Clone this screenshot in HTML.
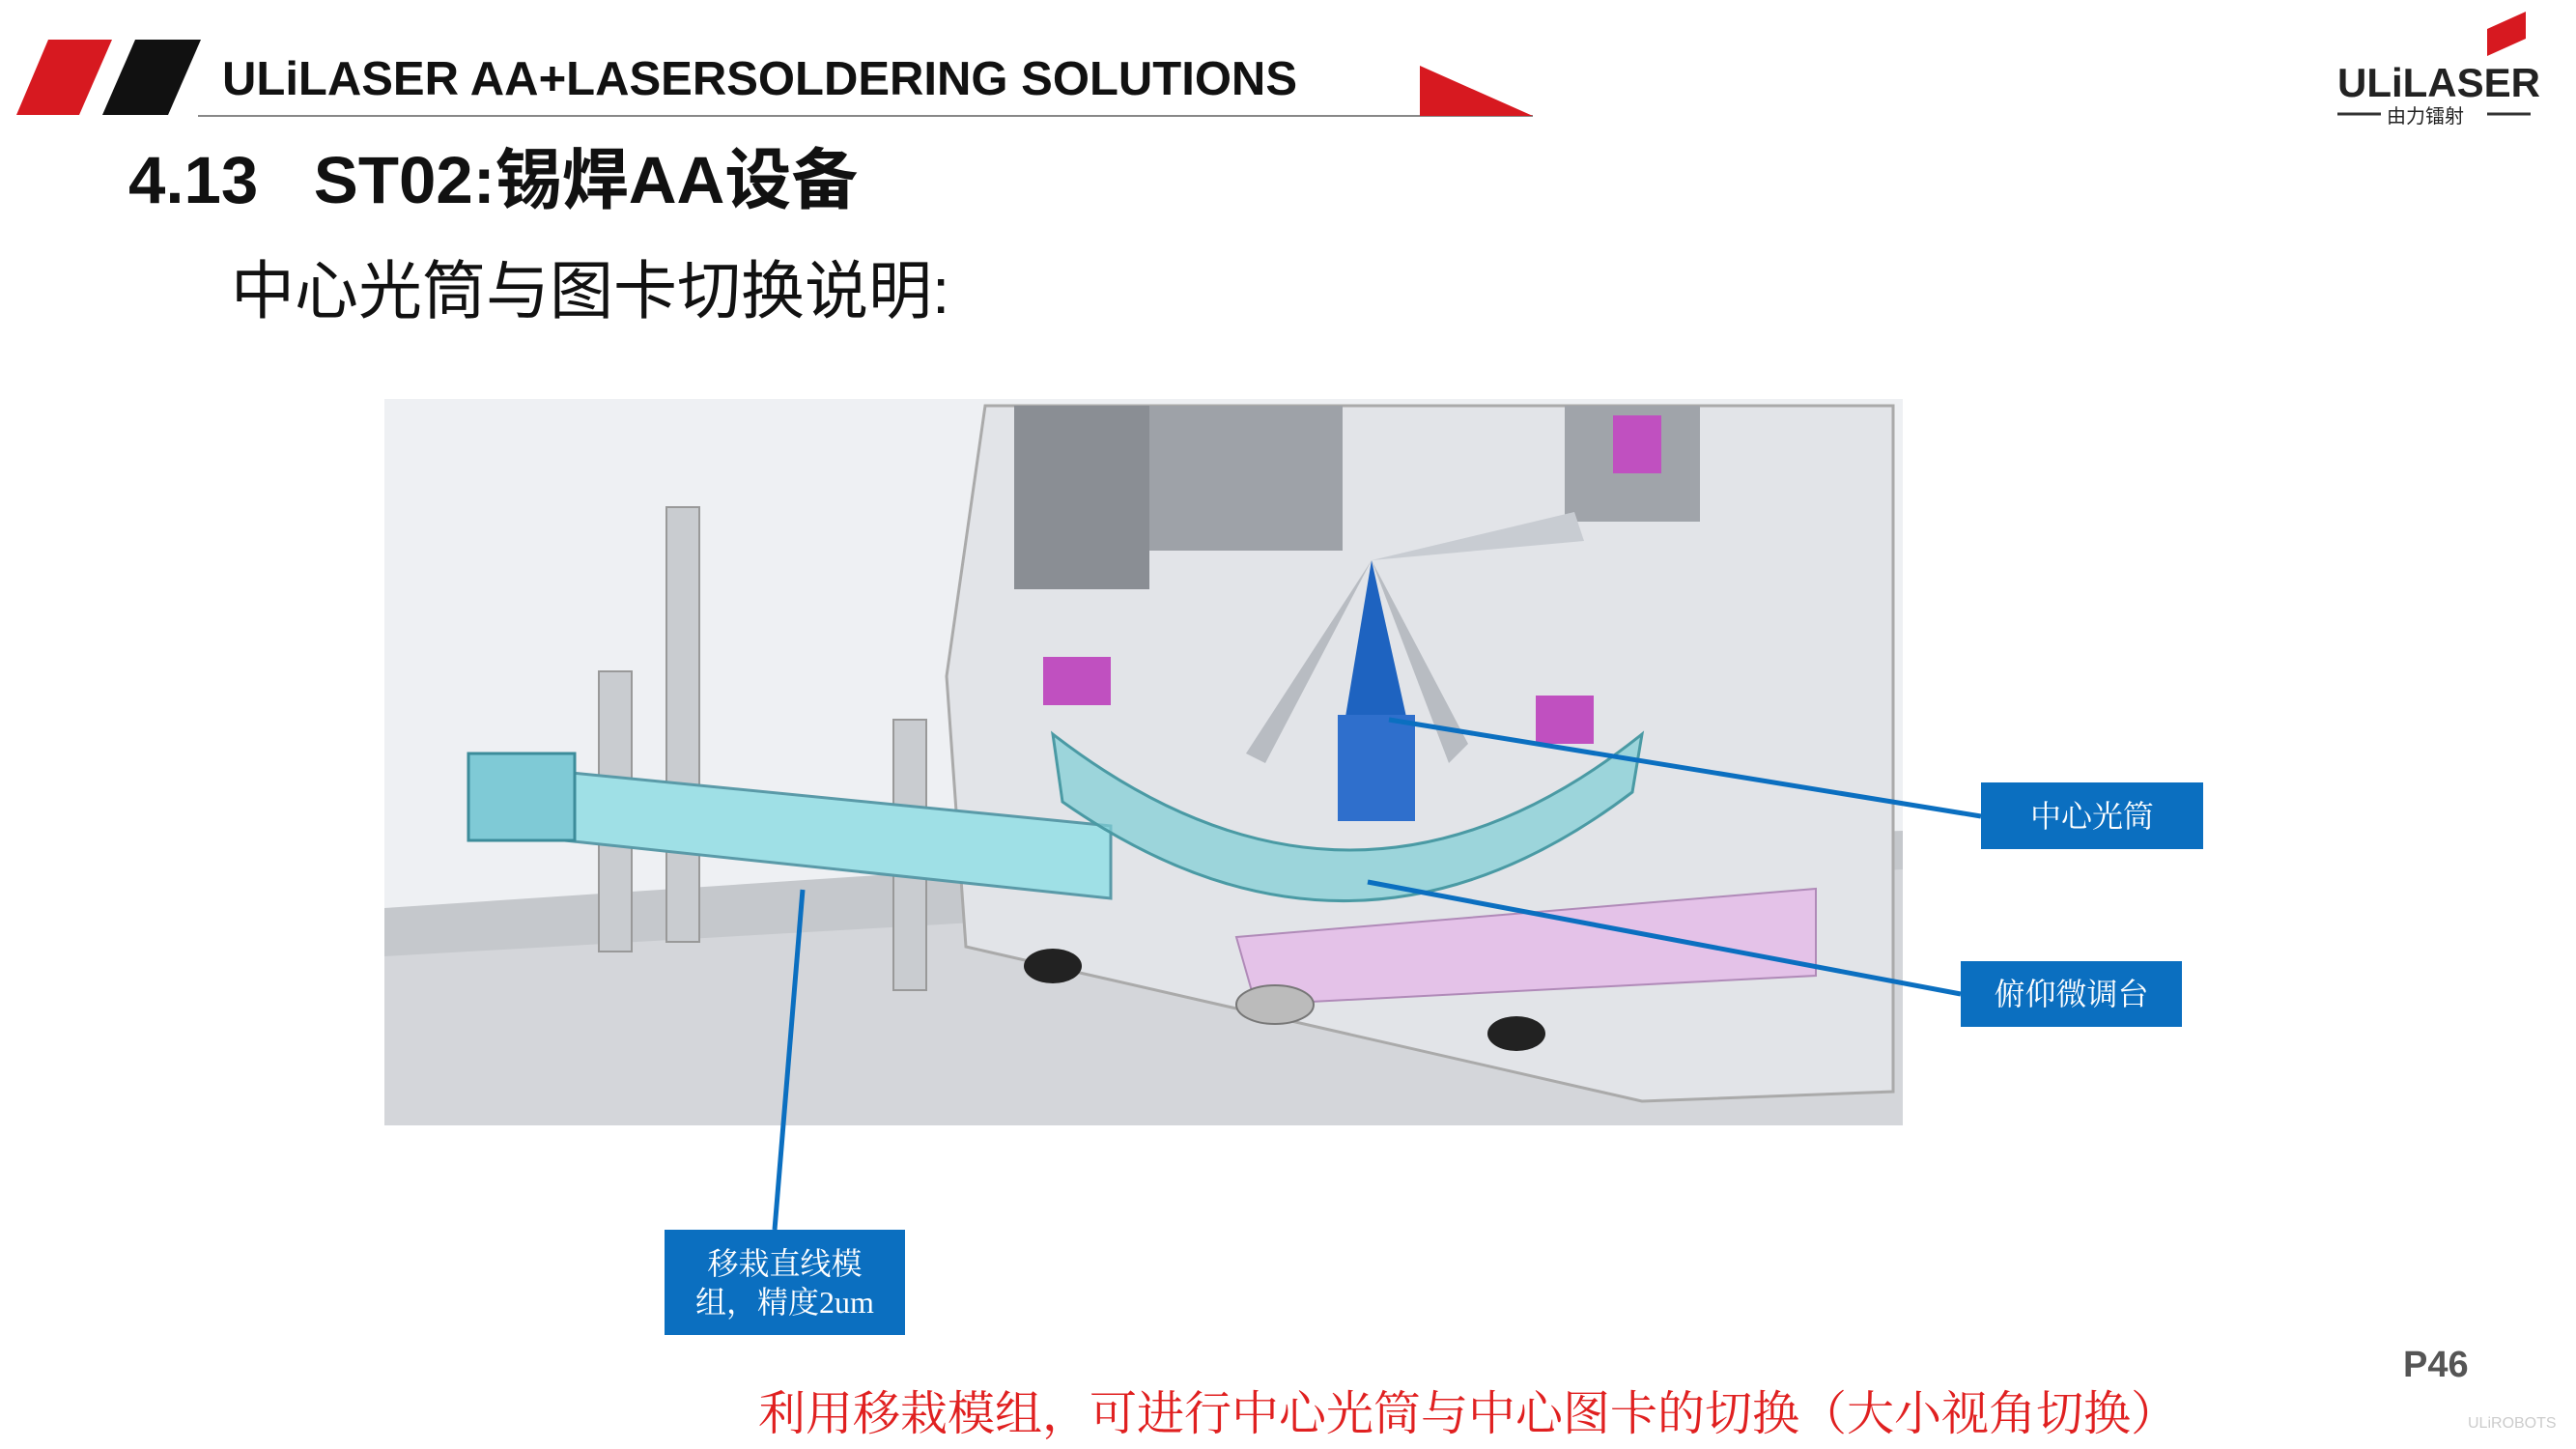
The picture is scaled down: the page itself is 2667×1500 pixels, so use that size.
<!DOCTYPE html>
<html><head><meta charset="utf-8"><style>
body{margin:0;width:2667px;height:1500px;background:#fff;position:relative;overflow:hidden;font-family:"Liberation Sans","Noto Sans CJK SC",sans-serif}
.a{position:absolute}
.box{position:absolute;background:#0b6fc0;color:#fff;font-family:"Liberation Serif","Noto Serif CJK SC",serif;text-align:center;font-size:32px;display:flex;align-items:center;justify-content:center;line-height:40px}
</style></head><body>
<svg class="a" style="left:0;top:0" width="2667" height="1500">
<polygon points="50,41 116,41 82,119 17,119" fill="#d71920"/>
<polygon points="140,41 208,41 174,119 106,119" fill="#111"/>
<line x1="205" y1="120" x2="1587" y2="120" stroke="#888" stroke-width="2"/>
<polygon points="1470,68 1587,120 1470,120" fill="#d71920"/>
<polygon points="2575,30 2615,12 2615,40 2575,58" fill="#d71920"/>
<line x1="2420" y1="118" x2="2465" y2="118" stroke="#333" stroke-width="3"/>
<line x1="2575" y1="118" x2="2620" y2="118" stroke="#333" stroke-width="3"/>
<rect x="398" y="413" width="1572" height="752" fill="#eef0f3"/>
<polygon points="398,950 1970,900 1970,1165 398,1165" fill="#d4d6da"/>
<polygon points="398,940 1300,880 1970,860 1970,900 398,990" fill="#c5c8cc"/>
<polygon points="1020,420 1960,420 1960,1130 1700,1140 1000,980 980,700" fill="#e2e4e8" stroke="#aaa" stroke-width="3"/>
<rect x="690" y="525" width="34" height="450" fill="#c9ccd0" stroke="#999" stroke-width="2"/>
<rect x="620" y="695" width="34" height="290" fill="#c9ccd0" stroke="#999" stroke-width="2"/>
<rect x="925" y="745" width="34" height="280" fill="#c9ccd0" stroke="#999" stroke-width="2"/>
<polygon points="490,790 1150,855 1150,930 490,860" fill="#9fe0e6" stroke="#5a9aa8" stroke-width="3"/>
<rect x="485" y="780" width="110" height="90" fill="#7fcad6" stroke="#3c8c9a" stroke-width="3"/>
<polygon points="1280,970 1880,920 1880,1010 1300,1040" fill="#e4c2e8" stroke="#b08ab8" stroke-width="2"/>
<rect x="1050" y="420" width="140" height="190" fill="#8a8e94"/>
<rect x="1190" y="420" width="200" height="150" fill="#9ea2a8"/>
<rect x="1620" y="420" width="140" height="120" fill="#a0a4aa"/>
<rect x="1670" y="430" width="50" height="60" fill="#c050c0"/>
<rect x="1080" y="680" width="70" height="50" fill="#c050c0"/>
<rect x="1590" y="720" width="60" height="50" fill="#c050c0"/>
<path d="M1090,760 Q1400,1000 1700,760 L1690,820 Q1400,1040 1100,830 Z" fill="#7fcfd6" fill-opacity=".7" stroke="#4a9aa4" stroke-width="3"/>
<polygon points="1420,580 1390,760 1460,760" fill="#1e63c0"/>
<rect x="1385" y="740" width="80" height="110" fill="#2f6fcc"/>
<polygon points="1420,580 1290,780 1310,790" fill="#b8bcc2"/>
<polygon points="1420,580 1520,770 1500,790" fill="#b8bcc2"/>
<polygon points="1420,580 1640,560 1630,530" fill="#c8ccd2"/>
<ellipse cx="1090" cy="1000" rx="30" ry="18" fill="#222"/>
<ellipse cx="1570" cy="1070" rx="30" ry="18" fill="#222"/>
<ellipse cx="1320" cy="1040" rx="40" ry="20" fill="#bbb" stroke="#777" stroke-width="2"/>
<g stroke="#0b6fc0" stroke-width="5">
<line x1="1438" y1="745" x2="2051" y2="845"/>
<line x1="1416" y1="913" x2="2030" y2="1029"/>
<line x1="831" y1="921" x2="802" y2="1273"/>
</g>
</svg>
<div class="a" style="left:230px;top:54px;font-size:49px;font-weight:bold;color:#111">ULiLASER AA+LASERSOLDERING SOLUTIONS</div>
<div class="a" style="left:2420px;top:62px;font-size:42px;font-weight:bold;color:#222">ULiLASER</div>
<div class="a" style="left:2471px;top:104px;font-size:20px;color:#222">由力镭射</div>
<div class="a" style="left:133px;top:130px;font-size:69px;font-weight:bold;color:#111">4.13&nbsp;&nbsp;&nbsp;ST02:锡焊AA设备</div>
<div class="a" style="left:239px;top:248px;font-size:66px;color:#111">中心光筒与图卡切换说明:</div>
<div class="box" style="left:2051px;top:810px;width:230px;height:69px">中心光筒</div>
<div class="box" style="left:2030px;top:995px;width:229px;height:68px">俯仰微调台</div>
<div class="box" style="left:688px;top:1273px;width:249px;height:109px">移栽直线模<br>组，精度2um</div>
<div class="a" style="left:785px;top:1425px;font-size:49px;color:#e02020;font-family:'Liberation Serif','Noto Serif CJK SC',serif;white-space:nowrap">利用移栽模组，可进行中心光筒与中心图卡的切换（大小视角切换）</div>
<div class="a" style="left:2488px;top:1392px;font-size:38px;font-weight:bold;color:#555">P46</div>
<div class="a" style="left:2555px;top:1465px;font-size:16px;color:#ccc">ULiROBOTS</div>
</body></html>
